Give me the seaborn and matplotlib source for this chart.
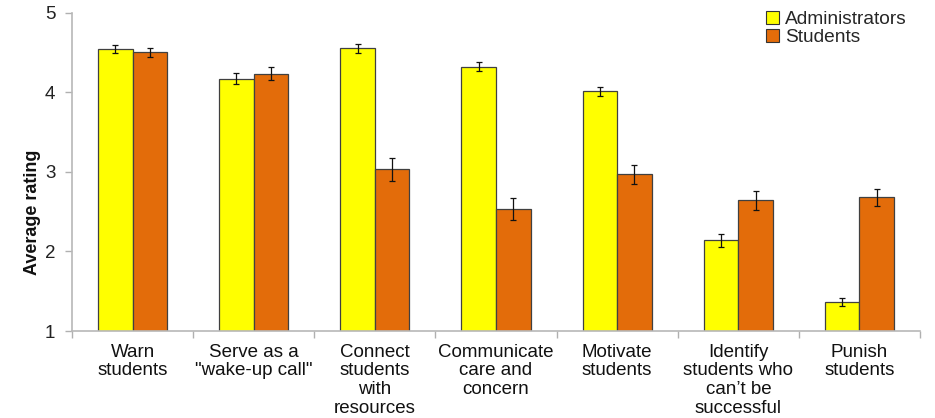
import matplotlib
matplotlib.use("Agg")
import matplotlib.pyplot as plt
import seaborn as sns
import numpy as np
import pandas as pd

categories = [
    "Warn\nstudents",
    "Serve as a\n\"wake-up call\"",
    "Connect\nstudents\nwith\nresources",
    "Communicate\ncare and\nconcern",
    "Motivate\nstudents",
    "Identify\nstudents who\ncan\u2019t be\nsuccessful",
    "Punish\nstudents",
]
groups = ["Administrators", "Students"]
admin_mean = [4.54, 4.17, 4.55, 4.32, 4.01, 2.14, 1.37]
admin_err = [0.05, 0.07, 0.055, 0.06, 0.06, 0.085, 0.05]
student_mean = [4.50, 4.23, 3.03, 2.53, 2.97, 2.64, 2.68]
student_err = [0.06, 0.08, 0.145, 0.14, 0.12, 0.125, 0.11]
yticks = [1, 2, 3, 4, 5]

colors = {"Administrators": "#FFFF00", "Students": "#E36C0A"}

df = pd.DataFrame({
    "category": categories * 2,
    "group": [groups[0]] * len(categories) + [groups[1]] * len(categories),
    "rating": admin_mean + student_mean,
    "err": admin_err + student_err,
})

sns.set_theme(style="white")
plt.rcParams["font.family"] = ["Liberation Sans", "DejaVu Sans"]

fig = plt.figure(figsize=(9.35, 4.18), dpi=100)
ax = fig.add_axes([0.077, 0.208, 0.907, 0.762])

sns.barplot(data=df, x="category", y="rating", hue="group", order=categories,
            hue_order=groups, palette=colors, saturation=1, errorbar=None, width=0.57,
            edgecolor="#404040", linewidth=0.9, ax=ax)

# error bars at bar centres, taken from the drawn patches
for cont, g in zip(ax.containers, groups):
    sub = df[df["group"] == g].set_index("category").loc[categories]
    xs = [p.get_x() + p.get_width() / 2 for p in cont.patches]
    ax.errorbar(xs, sub["rating"].values, yerr=sub["err"].values, fmt="none",
                ecolor="#111111", elinewidth=0.9, capsize=2.5, capthick=0.9, zorder=5)

ax.set_ylim(1, 5)
ax.set_xlim(-0.5, len(categories) - 0.5)
ax.set_yticks(yticks)
ax.set_yticklabels([str(t) for t in yticks], fontsize=13.5, color="#222222")
ax.set_ylabel("Average rating", fontsize=13, fontweight="bold", color="#111111")
ax.yaxis.set_label_coords(-0.036, 0.374)
ax.set_xlabel("")

ax.tick_params(axis="x", which="major", length=0, pad=9, labelsize=13.5, labelcolor="#111111")
ax.set_xticks(np.arange(-0.5, len(categories)), minor=True)
ax.tick_params(axis="x", which="minor", direction="out", length=5, width=1, color="#b0b0b0", bottom=True)
ax.tick_params(axis="y", direction="out", length=5, width=1, color="#b0b0b0", left=True, pad=7)
for lab in ax.get_xticklabels():
    lab.set_linespacing(1.13)

for side in ["top", "right"]:
    ax.spines[side].set_visible(False)
for side in ["left", "bottom"]:
    ax.spines[side].set_color("#b8b8b8")
    ax.spines[side].set_linewidth(1.2)

leg = ax.legend(loc="upper right", bbox_to_anchor=(0.993, 1.03), frameon=False,
                fontsize=13.8, handlelength=0.7, handleheight=0.7, handletextpad=0.3,
                labelspacing=0.05, borderaxespad=0)
for h in leg.legend_handles:
    h.set_edgecolor("#333333")
    h.set_linewidth(0.8)

fig.savefig("out.png", dpi=100, facecolor="white")
